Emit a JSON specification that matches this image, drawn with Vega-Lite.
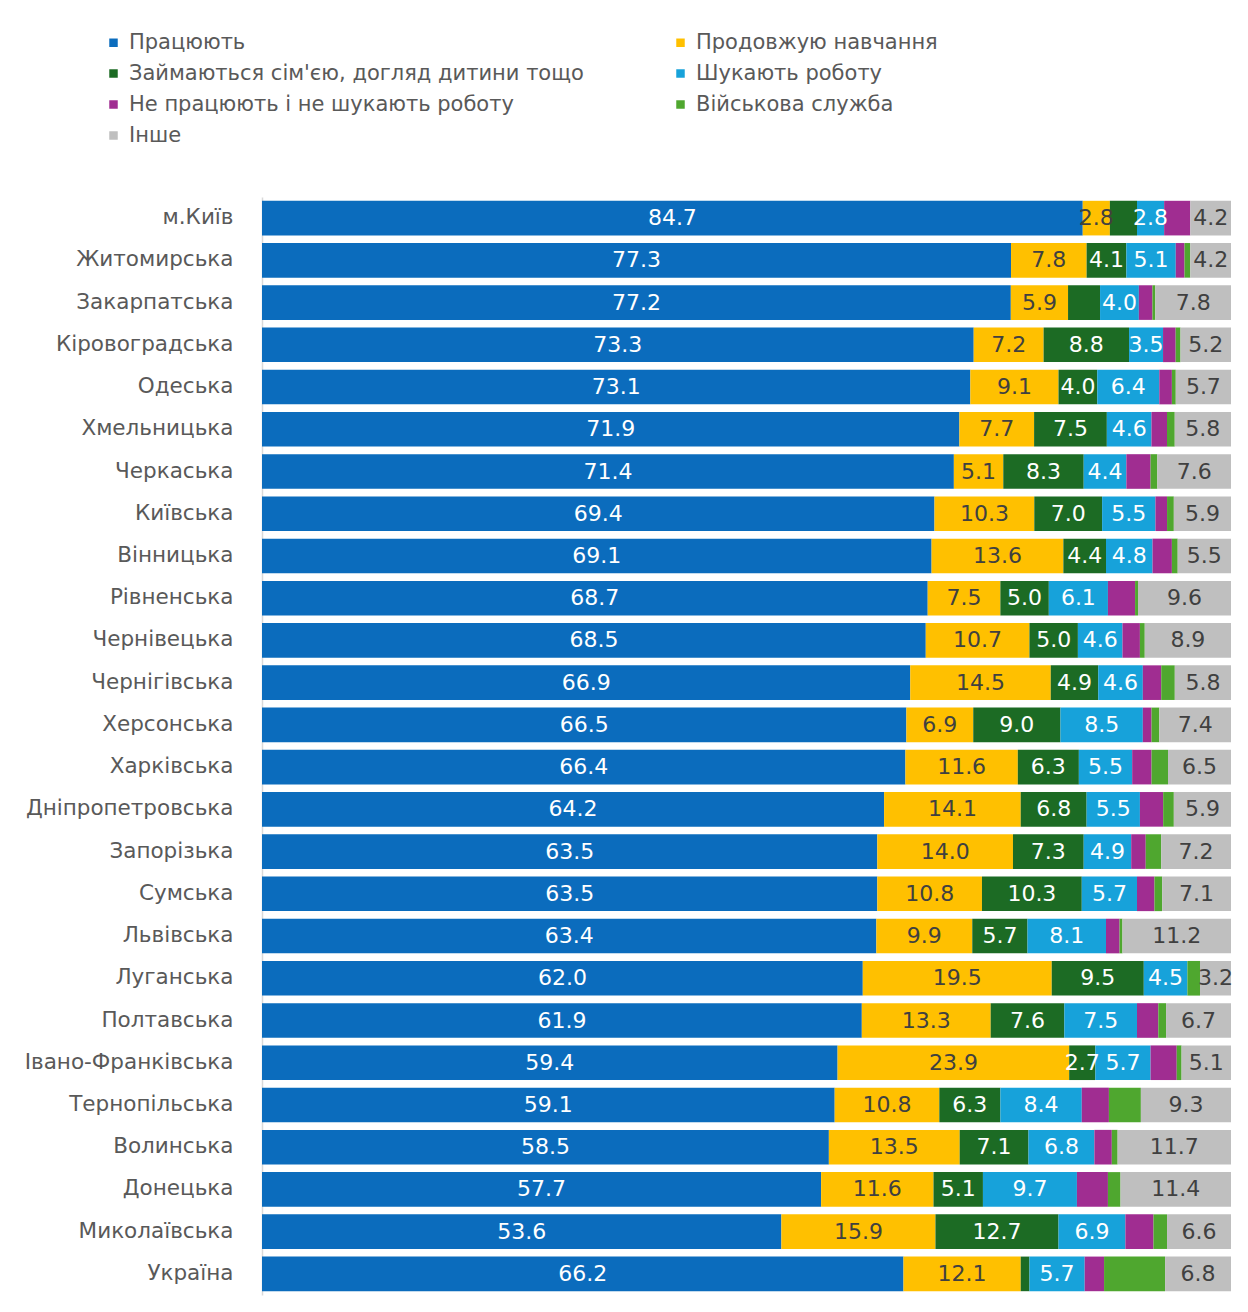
{
  "$schema": "https://vega.github.io/schema/vega-lite/v6.json",
  "width": 969,
  "height": 1098,
  "autosize": {"type": "none"},
  "padding": {"left": 262, "top": 197, "right": 17, "bottom": 17},
  "background": "white",
  "config": {"view": {"stroke": null}, "font": "DejaVu Sans"},
  "data": {"values": [
    {"r":"м.Київ","c":"Працюють","v":84.7},{"r":"м.Київ","c":"Продовжую навчання","v":2.8},{"r":"м.Київ","c":"Займаються сім'єю, догляд дитини тощо","v":2.8},{"r":"м.Київ","c":"Шукають роботу","v":2.8},{"r":"м.Київ","c":"Не працюють і не шукають роботу","v":2.7},{"r":"м.Київ","c":"Інше","v":4.2},
    {"r":"Житомирська","c":"Працюють","v":77.3},{"r":"Житомирська","c":"Продовжую навчання","v":7.8},{"r":"Житомирська","c":"Займаються сім'єю, догляд дитини тощо","v":4.1},{"r":"Житомирська","c":"Шукають роботу","v":5.1},{"r":"Житомирська","c":"Не працюють і не шукають роботу","v":0.9},{"r":"Житомирська","c":"Військова служба","v":0.6},{"r":"Житомирська","c":"Інше","v":4.2},
    {"r":"Закарпатська","c":"Працюють","v":77.2},{"r":"Закарпатська","c":"Продовжую навчання","v":5.9},{"r":"Закарпатська","c":"Займаються сім'єю, догляд дитини тощо","v":3.3},{"r":"Закарпатська","c":"Шукають роботу","v":4.0},{"r":"Закарпатська","c":"Не працюють і не шукають роботу","v":1.4},{"r":"Закарпатська","c":"Військова служба","v":0.3},{"r":"Закарпатська","c":"Інше","v":7.8},
    {"r":"Кіровоградська","c":"Працюють","v":73.3},{"r":"Кіровоградська","c":"Продовжую навчання","v":7.2},{"r":"Кіровоградська","c":"Займаються сім'єю, догляд дитини тощо","v":8.8},{"r":"Кіровоградська","c":"Шукають роботу","v":3.5},{"r":"Кіровоградська","c":"Не працюють і не шукають роботу","v":1.3},{"r":"Кіровоградська","c":"Військова служба","v":0.5},{"r":"Кіровоградська","c":"Інше","v":5.2},
    {"r":"Одеська","c":"Працюють","v":73.1},{"r":"Одеська","c":"Продовжую навчання","v":9.1},{"r":"Одеська","c":"Займаються сім'єю, догляд дитини тощо","v":4.0},{"r":"Одеська","c":"Шукають роботу","v":6.4},{"r":"Одеська","c":"Не працюють і не шукають роботу","v":1.3},{"r":"Одеська","c":"Військова служба","v":0.4},{"r":"Одеська","c":"Інше","v":5.7},
    {"r":"Хмельницька","c":"Працюють","v":71.9},{"r":"Хмельницька","c":"Продовжую навчання","v":7.7},{"r":"Хмельницька","c":"Займаються сім'єю, догляд дитини тощо","v":7.5},{"r":"Хмельницька","c":"Шукають роботу","v":4.6},{"r":"Хмельницька","c":"Не працюють і не шукають роботу","v":1.6},{"r":"Хмельницька","c":"Військова служба","v":0.8},{"r":"Хмельницька","c":"Інше","v":5.8},
    {"r":"Черкаська","c":"Працюють","v":71.4},{"r":"Черкаська","c":"Продовжую навчання","v":5.1},{"r":"Черкаська","c":"Займаються сім'єю, догляд дитини тощо","v":8.3},{"r":"Черкаська","c":"Шукають роботу","v":4.4},{"r":"Черкаська","c":"Не працюють і не шукають роботу","v":2.5},{"r":"Черкаська","c":"Військова служба","v":0.7},{"r":"Черкаська","c":"Інше","v":7.6},
    {"r":"Київська","c":"Працюють","v":69.4},{"r":"Київська","c":"Продовжую навчання","v":10.3},{"r":"Київська","c":"Займаються сім'єю, догляд дитини тощо","v":7.0},{"r":"Київська","c":"Шукають роботу","v":5.5},{"r":"Київська","c":"Не працюють і не шукають роботу","v":1.2},{"r":"Київська","c":"Військова служба","v":0.7},{"r":"Київська","c":"Інше","v":5.9},
    {"r":"Вінницька","c":"Працюють","v":69.1},{"r":"Вінницька","c":"Продовжую навчання","v":13.6},{"r":"Вінницька","c":"Займаються сім'єю, догляд дитини тощо","v":4.4},{"r":"Вінницька","c":"Шукають роботу","v":4.8},{"r":"Вінницька","c":"Не працюють і не шукають роботу","v":2.0},{"r":"Вінницька","c":"Військова служба","v":0.6},{"r":"Вінницька","c":"Інше","v":5.5},
    {"r":"Рівненська","c":"Працюють","v":68.7},{"r":"Рівненська","c":"Продовжую навчання","v":7.5},{"r":"Рівненська","c":"Займаються сім'єю, догляд дитини тощо","v":5.0},{"r":"Рівненська","c":"Шукають роботу","v":6.1},{"r":"Рівненська","c":"Не працюють і не шукають роботу","v":2.8},{"r":"Рівненська","c":"Військова служба","v":0.3},{"r":"Рівненська","c":"Інше","v":9.6},
    {"r":"Чернівецька","c":"Працюють","v":68.5},{"r":"Чернівецька","c":"Продовжую навчання","v":10.7},{"r":"Чернівецька","c":"Займаються сім'єю, догляд дитини тощо","v":5.0},{"r":"Чернівецька","c":"Шукають роботу","v":4.6},{"r":"Чернівецька","c":"Не працюють і не шукають роботу","v":1.8},{"r":"Чернівецька","c":"Військова служба","v":0.5},{"r":"Чернівецька","c":"Інше","v":8.9},
    {"r":"Чернігівська","c":"Працюють","v":66.9},{"r":"Чернігівська","c":"Продовжую навчання","v":14.5},{"r":"Чернігівська","c":"Займаються сім'єю, догляд дитини тощо","v":4.9},{"r":"Чернігівська","c":"Шукають роботу","v":4.6},{"r":"Чернігівська","c":"Не працюють і не шукають роботу","v":1.9},{"r":"Чернігівська","c":"Військова служба","v":1.4},{"r":"Чернігівська","c":"Інше","v":5.8},
    {"r":"Херсонська","c":"Працюють","v":66.5},{"r":"Херсонська","c":"Продовжую навчання","v":6.9},{"r":"Херсонська","c":"Займаються сім'єю, догляд дитини тощо","v":9.0},{"r":"Херсонська","c":"Шукають роботу","v":8.5},{"r":"Херсонська","c":"Не працюють і не шукають роботу","v":0.9},{"r":"Херсонська","c":"Військова служба","v":0.8},{"r":"Херсонська","c":"Інше","v":7.4},
    {"r":"Харківська","c":"Працюють","v":66.4},{"r":"Харківська","c":"Продовжую навчання","v":11.6},{"r":"Харківська","c":"Займаються сім'єю, догляд дитини тощо","v":6.3},{"r":"Харківська","c":"Шукають роботу","v":5.5},{"r":"Харківська","c":"Не працюють і не шукають роботу","v":2.0},{"r":"Харківська","c":"Військова служба","v":1.7},{"r":"Харківська","c":"Інше","v":6.5},
    {"r":"Дніпропетровська","c":"Працюють","v":64.2},{"r":"Дніпропетровська","c":"Продовжую навчання","v":14.1},{"r":"Дніпропетровська","c":"Займаються сім'єю, догляд дитини тощо","v":6.8},{"r":"Дніпропетровська","c":"Шукають роботу","v":5.5},{"r":"Дніпропетровська","c":"Не працюють і не шукають роботу","v":2.4},{"r":"Дніпропетровська","c":"Військова служба","v":1.1},{"r":"Дніпропетровська","c":"Інше","v":5.9},
    {"r":"Запорізька","c":"Працюють","v":63.5},{"r":"Запорізька","c":"Продовжую навчання","v":14.0},{"r":"Запорізька","c":"Займаються сім'єю, догляд дитини тощо","v":7.3},{"r":"Запорізька","c":"Шукають роботу","v":4.9},{"r":"Запорізька","c":"Не працюють і не шукають роботу","v":1.5},{"r":"Запорізька","c":"Військова служба","v":1.6},{"r":"Запорізька","c":"Інше","v":7.2},
    {"r":"Сумська","c":"Працюють","v":63.5},{"r":"Сумська","c":"Продовжую навчання","v":10.8},{"r":"Сумська","c":"Займаються сім'єю, догляд дитини тощо","v":10.3},{"r":"Сумська","c":"Шукають роботу","v":5.7},{"r":"Сумська","c":"Не працюють і не шукають роботу","v":1.8},{"r":"Сумська","c":"Військова служба","v":0.8},{"r":"Сумська","c":"Інше","v":7.1},
    {"r":"Львівська","c":"Працюють","v":63.4},{"r":"Львівська","c":"Продовжую навчання","v":9.9},{"r":"Львівська","c":"Займаються сім'єю, догляд дитини тощо","v":5.7},{"r":"Львівська","c":"Шукають роботу","v":8.1},{"r":"Львівська","c":"Не працюють і не шукають роботу","v":1.4},{"r":"Львівська","c":"Військова служба","v":0.3},{"r":"Львівська","c":"Інше","v":11.2},
    {"r":"Луганська","c":"Працюють","v":62.0},{"r":"Луганська","c":"Продовжую навчання","v":19.5},{"r":"Луганська","c":"Займаються сім'єю, догляд дитини тощо","v":9.5},{"r":"Луганська","c":"Шукають роботу","v":4.5},{"r":"Луганська","c":"Військова служба","v":1.3},{"r":"Луганська","c":"Інше","v":3.2},
    {"r":"Полтавська","c":"Працюють","v":61.9},{"r":"Полтавська","c":"Продовжую навчання","v":13.3},{"r":"Полтавська","c":"Займаються сім'єю, догляд дитини тощо","v":7.6},{"r":"Полтавська","c":"Шукають роботу","v":7.5},{"r":"Полтавська","c":"Не працюють і не шукають роботу","v":2.2},{"r":"Полтавська","c":"Військова служба","v":0.8},{"r":"Полтавська","c":"Інше","v":6.7},
    {"r":"Івано-Франківська","c":"Працюють","v":59.4},{"r":"Івано-Франківська","c":"Продовжую навчання","v":23.9},{"r":"Івано-Франківська","c":"Займаються сім'єю, догляд дитини тощо","v":2.7},{"r":"Івано-Франківська","c":"Шукають роботу","v":5.7},{"r":"Івано-Франківська","c":"Не працюють і не шукають роботу","v":2.7},{"r":"Івано-Франківська","c":"Військова служба","v":0.5},{"r":"Івано-Франківська","c":"Інше","v":5.1},
    {"r":"Тернопільська","c":"Працюють","v":59.1},{"r":"Тернопільська","c":"Продовжую навчання","v":10.8},{"r":"Тернопільська","c":"Займаються сім'єю, догляд дитини тощо","v":6.3},{"r":"Тернопільська","c":"Шукають роботу","v":8.4},{"r":"Тернопільська","c":"Не працюють і не шукають роботу","v":2.8},{"r":"Тернопільська","c":"Військова служба","v":3.3},{"r":"Тернопільська","c":"Інше","v":9.3},
    {"r":"Волинська","c":"Працюють","v":58.5},{"r":"Волинська","c":"Продовжую навчання","v":13.5},{"r":"Волинська","c":"Займаються сім'єю, догляд дитини тощо","v":7.1},{"r":"Волинська","c":"Шукають роботу","v":6.8},{"r":"Волинська","c":"Не працюють і не шукають роботу","v":1.8},{"r":"Волинська","c":"Військова служба","v":0.6},{"r":"Волинська","c":"Інше","v":11.7},
    {"r":"Донецька","c":"Працюють","v":57.7},{"r":"Донецька","c":"Продовжую навчання","v":11.6},{"r":"Донецька","c":"Займаються сім'єю, догляд дитини тощо","v":5.1},{"r":"Донецька","c":"Шукають роботу","v":9.7},{"r":"Донецька","c":"Не працюють і не шукають роботу","v":3.2},{"r":"Донецька","c":"Військова служба","v":1.3},{"r":"Донецька","c":"Інше","v":11.4},
    {"r":"Миколаївська","c":"Працюють","v":53.6},{"r":"Миколаївська","c":"Продовжую навчання","v":15.9},{"r":"Миколаївська","c":"Займаються сім'єю, догляд дитини тощо","v":12.7},{"r":"Миколаївська","c":"Шукають роботу","v":6.9},{"r":"Миколаївська","c":"Не працюють і не шукають роботу","v":2.9},{"r":"Миколаївська","c":"Військова служба","v":1.4},{"r":"Миколаївська","c":"Інше","v":6.6},
    {"r":"Україна","c":"Працюють","v":66.2},{"r":"Україна","c":"Продовжую навчання","v":12.1},{"r":"Україна","c":"Займаються сім'єю, догляд дитини тощо","v":0.9},{"r":"Україна","c":"Шукають роботу","v":5.7},{"r":"Україна","c":"Не працюють і не шукають роботу","v":2.0},{"r":"Україна","c":"Військова служба","v":6.3},{"r":"Україна","c":"Інше","v":6.8}
  ]},
  "transform": [
    {"calculate": "indexof(['Працюють','Продовжую навчання','Займаються сім\\'єю, догляд дитини тощо','Шукають роботу','Не працюють і не шукають роботу','Військова служба','Інше'], datum.c)", "as": "idx"},
    {"stack": "v", "groupby": ["r"], "sort": [{"field": "idx", "order": "ascending"}], "offset": "normalize", "as": ["v0", "v1"]},
    {"calculate": "(datum.v0 + datum.v1) / 2", "as": "mid"}
  ],
  "encoding": {
    "y": {
      "field": "r", "type": "nominal",
      "sort": ["м.Київ","Житомирська","Закарпатська","Кіровоградська","Одеська","Хмельницька","Черкаська","Київська","Вінницька","Рівненська","Чернівецька","Чернігівська","Херсонська","Харківська","Дніпропетровська","Запорізька","Сумська","Львівська","Луганська","Полтавська","Івано-Франківська","Тернопільська","Волинська","Донецька","Миколаївська","Україна"],
      "scale": {"paddingInner": 0.18, "paddingOuter": 0.09},
      "axis": {"title": null, "ticks": false, "domain": true, "domainColor": "#d9d9d9", "domainWidth": 1.5, "labelFontSize": 21.5, "labelColor": "#595959", "labelPadding": 29, "labelLimit": 300, "grid": false}
    }
  },
  "layer": [
    {
      "mark": {"type": "bar"},
      "encoding": {
        "x": {"field": "v0", "type": "quantitative", "scale": {"domain": [0, 1], "nice": false}, "axis": null},
        "x2": {"field": "v1"},
        "color": {
          "field": "c", "type": "nominal",
          "sort": ["Працюють","Продовжую навчання","Займаються сім'єю, догляд дитини тощо","Шукають роботу","Не працюють і не шукають роботу","Військова служба","Інше"],
          "scale": {
            "domain": ["Працюють","Продовжую навчання","Займаються сім'єю, догляд дитини тощо","Шукають роботу","Не працюють і не шукають роботу","Військова служба","Інше"],
            "range": ["#0B6CBD","#FFC000","#1C6B24","#17A2DA","#A02D91","#4FA72F","#BFBFBF"]
          },
          "legend": {
            "title": null, "orient": "none", "legendX": -159, "legendY": -165,
            "columns": 2, "direction": "horizontal",
            "symbolType": "square", "symbolSize": 72, "symbolStrokeWidth": 0,
            "labelFontSize": 21, "labelColor": "#595959", "labelLimit": 700, "labelOffset": 5,
            "rowPadding": 9, "columnPadding": 86
          }
        }
      }
    },
    {
      "transform": [
        {"filter": "datum.v >= 2.5 && datum.idx != 4 && datum.idx != 5 && !(datum.r == 'Закарпатська' && datum.idx == 2) && !(datum.r == 'м.Київ' && datum.idx == 2)"}
      ],
      "mark": {"type": "text", "fontSize": 22, "baseline": "middle", "align": "center"},
      "encoding": {
        "x": {"field": "mid", "type": "quantitative"},
        "text": {"field": "v", "type": "quantitative", "format": ".1f"},
        "color": {
          "condition": {"test": "datum.idx == 0 || datum.idx == 2 || datum.idx == 3", "value": "white"},
          "value": "#404040"
        }
      }
    }
  ]
}
